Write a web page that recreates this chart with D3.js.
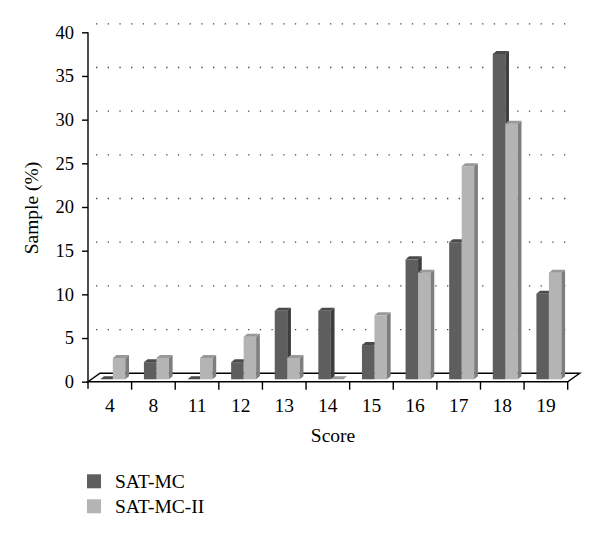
<!DOCTYPE html>
<html>
<head>
<meta charset="utf-8">
<script src="https://cdn.jsdelivr.net/npm/d3@7"></script>
<style>
  body { margin: 0; background: #fff; }
  text { font-family: "Liberation Serif", "Times New Roman", serif; fill: #000; }
</style>
</head>
<body>
<script>
var categories = ["4", "8", "11", "12", "13", "14", "15", "16", "17", "18", "19"];
var satMC   = [0, 1.96, 0, 1.96, 7.84, 7.84, 3.92, 13.73, 15.69, 37.25, 9.80];
var satMCII = [2.44, 2.44, 2.44, 4.88, 2.44, 0, 7.32, 12.20, 24.39, 29.27, 12.20];
var seriesNames = ["SAT-MC", "SAT-MC-II"];
var yTicks = [0, 5, 10, 15, 20, 25, 30, 35, 40];

var colors = [
  { front: "#5e5e5e", side: "#3e3e3e", top: "#4a4a4a" },
  { front: "#b4b4b4", side: "#7e7e7e", top: "#999999" }
];

var width = 600, height = 541;
var depthX = 12, depthY = 8.5;   // floor / back wall offset
var barDx = 3.7, barDy = 3;       // bar depth
var barLift = 2.4;                // bars sit a bit behind the front edge

var svg = d3.select("body").append("svg")
  .attr("width", width)
  .attr("height", height);

var x = d3.scaleBand()
  .domain(categories)
  .range([88, 567.7]);

var y = d3.scaleLinear()
  .domain([0, 40])
  .range([381.7, 32.3]);

// back wall gridlines (dotted)
svg.append("g").selectAll("line")
  .data(yTicks.filter(function(d) { return d > 0; }))
  .enter().append("line")
    .attr("x1", 96)
    .attr("x2", 575)
    .attr("y1", function(d) { return y(d) - depthY; })
    .attr("y2", function(d) { return y(d) - depthY; })
    .attr("stroke", "#444")
    .attr("stroke-width", 1.3)
    .attr("stroke-dasharray", "1.3,10.4");

// floor
var x0 = x.range()[0], x1 = x.range()[1], y0 = y(0);
svg.append("path")
  .attr("d", "M" + x0 + "," + y0 + "L" + x1 + "," + y0 + "L" + (x1 + depthX) + "," + (y0 - depthY) +
        "L" + (x0 + depthX) + "," + (y0 - depthY) + "Z")
  .attr("fill", "#fff")
  .attr("stroke", "#000")
  .attr("stroke-width", 1.4);

// bars
var offsets = [12.3, 24.8], bw = 12.5;
var bars = [];
categories.forEach(function(c, i) {
  [satMC[i], satMCII[i]].forEach(function(v, s) {
    bars.push({ cat: c, s: s, v: v });
  });
});

var g = svg.append("g").selectAll("g")
  .data(bars)
  .enter().append("g");

function bx(d) { return x(d.cat) + offsets[d.s]; }
function yb() { return y(0) - barLift; }
function yt(d) { return y(d.v) - barLift; }

g.append("rect")
  .attr("x", bx)
  .attr("y", yt)
  .attr("width", bw)
  .attr("height", function(d) { return yb() - yt(d); })
  .attr("fill", function(d) { return colors[d.s].front; });

g.append("path")
  .attr("d", function(d) {
    var a = bx(d) + bw, t = yt(d), b = yb();
    return "M" + a + "," + t + "L" + (a + barDx) + "," + (t - barDy) + "L" + (a + barDx) + "," + (b - barDy) + "L" + a + "," + b + "Z";
  })
  .attr("fill", function(d) { return colors[d.s].side; });

g.append("path")
  .attr("d", function(d) {
    var a = bx(d), t = yt(d);
    return "M" + a + "," + t + "L" + (a + barDx) + "," + (t - barDy) + "L" + (a + bw + barDx) + "," + (t - barDy) + "L" + (a + bw) + "," + t + "Z";
  })
  .attr("fill", function(d) { return colors[d.s].top; });

// y axis
var yAxis = d3.axisLeft(y).tickValues(yTicks).tickSize(6).tickPadding(8);
var ya = svg.append("g")
  .attr("transform", "translate(88,0)")
  .call(yAxis);
ya.select(".domain").attr("d", "M0," + y(40) + "V" + (y(0) + 7)).attr("stroke", "#000").attr("stroke-width", 1.4);
ya.selectAll(".tick line").attr("stroke", "#000").attr("stroke-width", 1.4);
ya.selectAll("text").style("font-size", "18.5px").attr("font-family", null);

// x ticks at band boundaries
var bounds = categories.map(function(c) { return x(c); }).concat([x.range()[1]]);
svg.append("g").selectAll("line")
  .data(bounds.slice(1))
  .enter().append("line")
    .attr("x1", function(d) { return d; })
    .attr("x2", function(d) { return d; })
    .attr("y1", y(0))
    .attr("y2", y(0) + 8)
    .attr("stroke", "#000")
    .attr("stroke-width", 1.4);

svg.append("g").selectAll("text")
  .data(categories)
  .enter().append("text")
    .attr("x", function(d) { return x(d) + x.bandwidth() / 2; })
    .attr("y", 412)
    .attr("text-anchor", "middle")
    .style("font-size", "19.5px")
    .text(function(d) { return d; });

// axis titles
svg.append("text")
  .attr("x", 333)
  .attr("y", 442)
  .attr("text-anchor", "middle")
  .style("font-size", "19.5px")
  .text("Score");

svg.append("text")
  .attr("transform", "translate(37.5,208) rotate(-90)")
  .attr("text-anchor", "middle")
  .style("font-size", "19.5px")
  .text("Sample (%)");

// legend
var leg = svg.append("g").selectAll("g")
  .data(seriesNames)
  .enter().append("g")
    .attr("transform", function(d, i) { return "translate(87," + (474.3 + i * 25) + ")"; });

leg.append("rect")
  .attr("width", 14)
  .attr("height", 14)
  .attr("fill", function(d, i) { return colors[i].front; });

leg.append("text")
  .attr("x", 28)
  .attr("y", 14)
  .style("font-size", "19.5px")
  .text(function(d) { return d; });
</script>
</body>
</html>
